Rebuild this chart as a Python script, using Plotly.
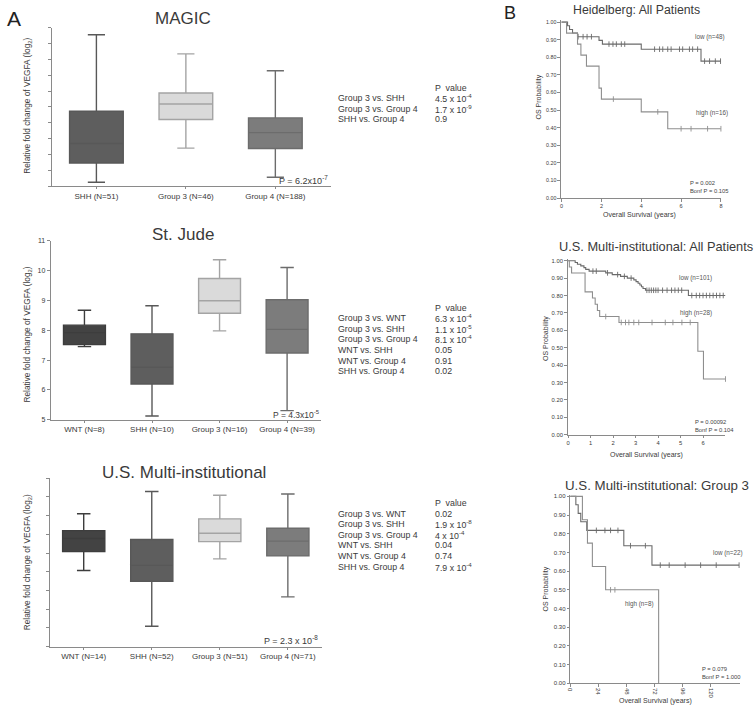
import plotly.graph_objects as go

# --- DATA ---
# Panel A: box plots (quartile summaries)
magic_groups = ["SHH (N=51)", "Group 3 (N=46)", "Group 4 (N=188)"]
magic_low = [0.25, 2.40, 0.56]
magic_q1 = [1.46, 4.21, 2.38]
magic_med = [2.69, 5.19, 3.38]
magic_q3 = [4.73, 5.88, 4.31]
magic_high = [9.56, 8.35, 7.29]

jude_groups = ["WNT (N=8)", "SHH (N=10)", "Group 3 (N=16)", "Group 4 (N=39)"]
jude_low = [7.45, 5.13, 7.98, 5.31]
jude_q1 = [7.52, 6.20, 8.57, 7.24]
jude_med = [7.92, 6.76, 8.99, 8.03]
jude_q3 = [8.17, 7.88, 9.73, 9.02]
jude_high = [8.67, 8.82, 10.36, 10.10]

us_groups = ["WNT (N=14)", "SHH (N=52)", "Group 3 (N=51)", "Group 4 (N=71)"]
us_low = [4.07, 1.09, 4.69, 2.66]
us_q1 = [5.08, 3.49, 5.61, 4.85]
us_med = [5.78, 4.34, 6.06, 5.64]
us_q3 = [6.20, 5.73, 6.83, 6.33]
us_high = [7.10, 8.29, 8.09, 8.16]

magic_cmp = ["Group 3 vs. SHH", "Group 3 vs. Group 4", "SHH vs. Group 4"]
magic_p = ["4.5 x 10<sup>-4</sup>", "1.7 x 10<sup>-9</sup>", "0.9"]
jude_cmp = ["Group 3 vs. WNT", "Group 3 vs. SHH", "Group 3 vs. Group 4",
            "WNT vs. SHH", "WNT vs. Group 4", "SHH vs. Group 4"]
jude_p = ["6.3 x 10<sup>-4</sup>", "1.1 x 10<sup>-5</sup>", "8.1 x 10<sup>-4</sup>",
          "0.05", "0.91", "0.02"]
us_cmp = jude_cmp
us_p = ["0.02", "1.9 x 10<sup>-8</sup>", "4 x 10<sup>-4</sup>", "0.04", "0.74",
        "7.9 x 10<sup>-4</sup>"]

# Panel B: Kaplan-Meier steps (time, survival) and censor times
heid_low_t = [0, 0.3, 0.4, 0.55, 0.8, 1.88, 2.05, 4.0, 7.0, 8.0]
heid_low_s = [1.0, 0.979, 0.958, 0.938, 0.917, 0.896, 0.875, 0.846, 0.778, 0.778]
heid_low_c = [0.83, 1.08, 1.28, 1.5, 2.38, 2.58, 2.75, 3.0, 3.17, 4.67, 4.92, 5.08,
              5.33, 5.5, 5.92, 6.08, 6.42, 6.58, 6.83, 7.18, 7.43, 7.72, 7.98]
heid_high_t = [0, 0.25, 0.8, 0.97, 1.25, 1.88, 2.0, 4.0, 5.33, 8.0]
heid_high_s = [1.0, 0.9375, 0.875, 0.8125, 0.75, 0.625, 0.5625, 0.49, 0.394, 0.394]
heid_high_c = [2.6, 4.83, 6.0, 6.5, 7.33, 8.0]

usall_low_t = [0, 0.31, 0.41, 0.56, 0.7, 0.78, 0.93, 1.67, 1.96, 2.33, 2.63, 2.92,
               3.02, 3.11, 3.19, 3.26, 3.33, 3.44, 5.35, 7.0]
usall_low_s = [1.0, 0.99, 0.98, 0.97, 0.96, 0.95, 0.94, 0.93, 0.92, 0.91, 0.90, 0.89,
               0.88, 0.87, 0.86, 0.85, 0.84, 0.83, 0.80, 0.80]
usall_low_c = [1.1, 1.25, 1.75, 2.2, 2.5, 2.8, 3.5, 3.6, 3.7, 3.8, 3.9, 4.0, 4.2, 4.4,
               4.6, 4.75, 4.9, 5.05, 5.5, 5.7, 5.85, 6.0, 6.15, 6.3, 6.45, 6.6, 6.75, 6.9]
usall_high_t = [0, 0.05, 0.15, 0.75, 1.08, 1.2, 1.3, 1.4, 2.26, 5.77, 6.02, 7.0]
usall_high_s = [1.0, 0.964, 0.929, 0.821, 0.786, 0.75, 0.714, 0.679, 0.645, 0.48,
                0.32, 0.32]
usall_high_c = [1.67, 2.36, 2.55, 2.7, 2.92, 3.14, 3.73, 4.32, 4.66, 5.06, 5.43, 7.0]

g3_low_t = [0, 4.8, 6.8, 9.0, 14.1, 45.7, 69.7, 144.0]
g3_low_s = [1.0, 0.955, 0.909, 0.864, 0.818, 0.736, 0.632, 0.632]
g3_low_c = [22.3, 29.6, 34.4, 40.7, 51.4, 64.1, 76.8, 84.4, 98.0, 111.2, 124.5, 144.0]
g3_high_t = [0, 10.4, 14.7, 18.9, 30.2, 75.4]
g3_high_s = [1.0, 0.875, 0.75, 0.625, 0.5, 0.0]
g3_high_c = [34.4, 38.1]

# --- LAYOUT HELPERS (pixel -> paper) ---
W, H = 755, 709
FONT = "Liberation Sans, Arial, sans-serif"
AX = "#8a8a8a"
TXT = "#3a3a3a"


def xd(a, b):
    return [a / W, b / W]


def yd(top, bottom):
    return [1 - bottom / H, 1 - top / H]


def note(fig, text, x, y, size, xanchor="center", color=TXT, angle=0, yanchor="middle"):
    fig.add_annotation(text=text, x=x / W, y=1 - y / H, xref="paper", yref="paper",
                       showarrow=False, xanchor=xanchor, yanchor=yanchor, align="left",
                       textangle=angle, font=dict(size=size, color=color, family=FONT))


fig = go.Figure()

fills = {"WNT": "#434343", "SHH": "#5e5e5e", "Group 3": "#dadada", "Group 4": "#7c7c7c"}
lines = {"WNT": "#3d3d3d", "SHH": "#585858", "Group 3": "#a4a4a4", "Group 4": "#6c6c6c"}


def box_panel(n, groups, lo, q1, med, q3, hi, width):
    xa = "x" if n == 1 else f"x{n}"
    ya = "y" if n == 1 else f"y{n}"
    for i, g in enumerate(groups):
        key = g.split(" (")[0]
        fig.add_trace(go.Box(
            x=[g], q1=[q1[i]], median=[med[i]], q3=[q3[i]],
            lowerfence=[lo[i]], upperfence=[hi[i]],
            fillcolor=fills[key], line=dict(color=lines[key], width=1.4),
            width=width, whiskerwidth=0.32, boxpoints=False,
            xaxis=xa, yaxis=ya, hoverinfo="skip",
        ))


def km_curve(n, t, s, censor, color):
    xa, ya = f"x{n}", f"y{n}"
    fig.add_trace(go.Scatter(x=t, y=s, mode="lines", line=dict(shape="hv", color=color, width=1.1),
                             xaxis=xa, yaxis=ya, hoverinfo="skip"))

    def surv_at(tt):
        idx = max(i for i in range(len(t)) if t[i] <= tt)
        return s[idx]

    fig.add_trace(go.Scatter(x=censor, y=[surv_at(c) for c in censor], mode="markers",
                             marker=dict(symbol="line-ns", size=4, line=dict(color=color, width=0.9)),
                             cliponaxis=False, xaxis=xa, yaxis=ya, hoverinfo="skip"))


box_panel(1, magic_groups, magic_low, magic_q1, magic_med, magic_q3, magic_high, 0.6)
box_panel(2, jude_groups, jude_low, jude_q1, jude_med, jude_q3, jude_high, 0.62)
box_panel(3, us_groups, us_low, us_q1, us_med, us_q3, us_high, 0.62)

LOW_C, HIGH_C = "#6a6a6a", "#8e8e8e"
km_curve(4, heid_low_t, heid_low_s, heid_low_c, LOW_C)
km_curve(4, heid_high_t, heid_high_s, heid_high_c, HIGH_C)
km_curve(5, usall_low_t, usall_low_s, usall_low_c, LOW_C)
km_curve(5, usall_high_t, usall_high_s, usall_high_c, HIGH_C)
km_curve(6, g3_low_t, g3_low_s, g3_low_c, LOW_C)
km_curve(6, g3_high_t, g3_high_s, g3_high_c, HIGH_C)

axis_common = dict(showline=True, linecolor=AX, linewidth=1, ticks="outside", tickcolor=AX,
                   showgrid=False, zeroline=False, tickfont=dict(family=FONT, color=TXT))

box_x = dict(axis_common, type="category", ticklen=2, tickfont=dict(family=FONT, size=8, color=TXT))
km_y = dict(axis_common, range=[0, 1.01], tickvals=[i / 10 for i in range(11)],
            tickformat=".2f", ticklen=2.5)

fig.update_layout(
    width=W, height=H, margin=dict(l=0, r=0, t=0, b=0),
    paper_bgcolor="white", plot_bgcolor="white", showlegend=False,
    font=dict(family=FONT, color=TXT),
    xaxis=dict(box_x, domain=xd(49, 330), anchor="y", range=[-0.5, 2.62],
               categoryorder="array", categoryarray=magic_groups),
    yaxis=dict(axis_common, domain=yd(24, 184), anchor="x", range=[0, 10], dtick=1,
               showticklabels=False, ticklen=3),
    xaxis2=dict(box_x, domain=xd(48, 320), anchor="y2", range=[-0.5, 3.5],
                categoryorder="array", categoryarray=jude_groups),
    yaxis2=dict(axis_common, domain=yd(239, 420), anchor="x2", range=[5, 11], dtick=1,
                ticklen=3, tickfont=dict(family=FONT, size=7, color=TXT)),
    xaxis3=dict(box_x, domain=xd(47, 321), anchor="y3", range=[-0.5, 3.5],
                categoryorder="array", categoryarray=us_groups),
    yaxis3=dict(axis_common, domain=yd(479, 649), anchor="x3", range=[0, 9], dtick=1,
                showticklabels=False, ticklen=3),
    xaxis4=dict(axis_common, domain=xd(561.7, 722.7), anchor="y4", range=[-0.03, 8],
                tickvals=[0, 2, 4, 6, 8], ticklen=2.5, tickfont=dict(family=FONT, size=5.5, color=TXT)),
    yaxis4=dict(km_y, domain=[1 - 196 / H, 1 - 16.5 / H], anchor="x4",
                tickfont=dict(family=FONT, size=5.3, color=TXT)),
    xaxis5=dict(axis_common, domain=xd(568.3, 727.3), anchor="y5", range=[-0.03, 7],
                tickvals=[0, 1, 2, 3, 4, 5, 6], ticklen=2.5, tickfont=dict(family=FONT, size=5.8, color=TXT)),
    yaxis5=dict(km_y, domain=[1 - 435 / H, 1 - 257.5 / H], anchor="x5",
                tickfont=dict(family=FONT, size=5.8, color=TXT)),
    xaxis6=dict(axis_common, domain=xd(571, 741.7), anchor="y6", range=[0, 144.6],
                tickvals=[0, 24, 48, 72, 96, 120], tickangle=90, ticklen=2.5,
                tickfont=dict(family=FONT, size=6, color=TXT)),
    yaxis6=dict(km_y, domain=[1 - 686 / H, 1 - 495.4 / H], anchor="x6",
                tickfont=dict(family=FONT, size=6, color=TXT)),
)

# panel letters and titles
note(fig, "A", 2, 15, 21, xanchor="left", color="#222")
note(fig, "B", 502, 9, 18, xanchor="left", color="#222")
note(fig, "MAGIC", 181, 15, 17)
note(fig, "St. Jude", 181, 233, 17)
note(fig, "U.S. Multi-institutional", 182, 473, 17)
note(fig, "Heidelberg: All Patients", 638, 6, 12.3)
note(fig, "U.S. Multi-institutional: All Patients", 657, 245, 12.8)
note(fig, "U.S. Multi-institutional: Group 3", 658, 486, 13.3)

# box plot axis labels and overall P values
ylab = "Relative fold change of VEGFA (log<sub>2</sub>)"
note(fig, ylab, 25, 103, 8.3, angle=-90)
note(fig, ylab, 25, 334, 8.3, angle=-90)
note(fig, ylab, 25, 564, 8.3, angle=-90)
note(fig, "P = 6.2x10<sup>-7</sup>", 329, 178, 9, xanchor="right")
note(fig, "P = 4.3x10<sup>-5</sup>", 321, 415, 8.5, xanchor="right")
note(fig, "P = 2.3 x 10<sup>-8</sup>", 319, 642, 9, xanchor="right")


def p_table(cmp, pv, header_y, step):
    note(fig, "P  value", 433, header_y, 8.8, xanchor="left")
    for i, (c, p) in enumerate(zip(cmp, pv)):
        y = header_y + step * (i + 1)
        note(fig, c, 335, y, 8.8, xanchor="left")
        note(fig, p, 433, y, 8.8, xanchor="left")


p_table(magic_cmp, magic_p, 85, 10.3)
p_table(jude_cmp, jude_p, 306.7, 10.7)
p_table(us_cmp, us_p, 504, 10.7)

# KM annotations
for (cx, cy) in [(540, 94), (546, 338), (547, 591)]:
    note(fig, "OS Probability", cx, cy, 7, angle=-90)
note(fig, "Overall Survival (years)", 641, 213, 7)
note(fig, "Overall Survival (years)", 648, 456, 7)
note(fig, "Overall Survival (years)", 657, 704, 7)

note(fig, "low (n=48)", 695, 33, 6.3, xanchor="left", color="#555")
note(fig, "high (n=16)", 696, 110, 6.3, xanchor="left", color="#555")
note(fig, "P = 0.002<br>Bonf P = 0.105", 690, 185, 5.8, xanchor="left", color="#444")

note(fig, "low (n=101)", 678, 277, 6.3, xanchor="left", color="#555")
note(fig, "high (n=28)", 679, 312, 6.3, xanchor="left", color="#555")
note(fig, "P = 0.00092<br>Bonf P = 0.104", 695, 426, 5.8, xanchor="left", color="#444")

note(fig, "low (n=22)", 713, 554, 6.3, xanchor="left", color="#555")
note(fig, "high (n=8)", 624, 606, 6.3, xanchor="left", color="#555")
note(fig, "P = 0.079<br>Bonf P = 1.000", 702, 676, 5.8, xanchor="left", color="#444")

# the page body has a default margin; remove it so the figure sits at the window's corner
fig.write_html("out.html", config={"displayModeBar": False},
               post_script="document.body.style.margin='0';")
